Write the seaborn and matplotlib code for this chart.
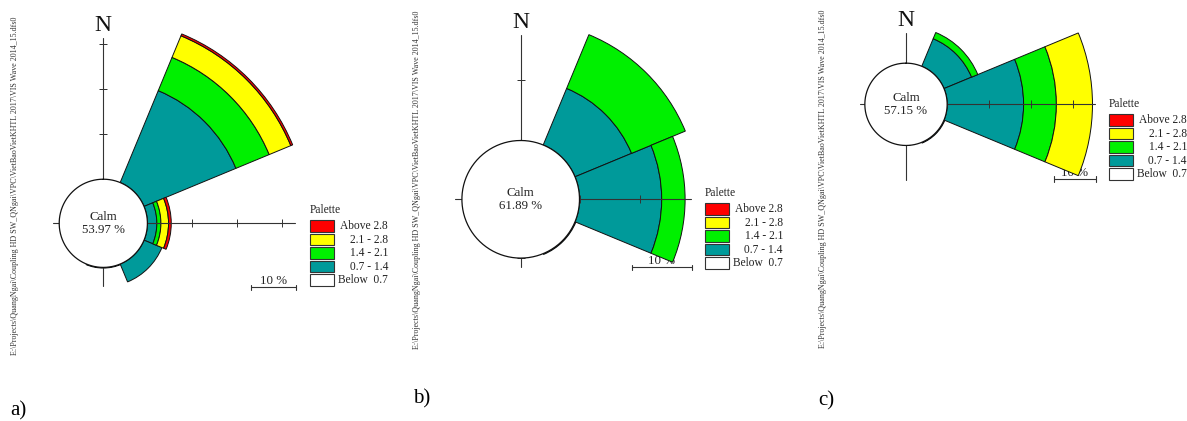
import numpy as np
import pandas as pd
import matplotlib
matplotlib.use("Agg")
import matplotlib.pyplot as plt
from matplotlib.patches import Rectangle
from matplotlib.lines import Line2D
import seaborn as sns

# wave direction sectors (compass, clockwise from N) and wave height classes
directions = ["N", "NE", "E", "SE", "S", "SW", "W", "NW"]
speed_bins = ["0.7 - 1.4", "1.4 - 2.1", "2.1 - 2.8", "Above 2.8"]
legend_labels = ["Above 2.8", "2.1 - 2.8", "1.4 - 2.1", "0.7 - 1.4", "Below  0.7"]
panel_labels = ["a)", "b)", "c)"]
calm_values = [53.97, 61.89, 57.15]

# frequency (%) per sector, one list per height class
a_07_14 = [0.0, 22.1, 2.1, 4.3, 0.15, 0.0, 0.0, 0.0]
a_14_21 = [0.0, 8.0, 0.9, 0.0, 0.0, 0.0, 0.0, 0.0]
a_21_28 = [0.0, 5.2, 1.7, 0.0, 0.0, 0.0, 0.0, 0.0]
a_above = [0.0, 0.45, 0.6, 0.0, 0.0, 0.0, 0.0, 0.0]

b_07_14 = [0.0, 10.2, 13.7, 0.15, 0.0, 0.0, 0.0, 0.0]
b_14_21 = [0.0, 9.7, 3.9, 0.0, 0.0, 0.0, 0.0, 0.0]
b_21_28 = [0.0, 0.0, 0.0, 0.0, 0.0, 0.0, 0.0, 0.0]
b_above = [0.0, 0.0, 0.0, 0.0, 0.0, 0.0, 0.0, 0.0]

c_07_14 = [0.0, 7.1, 18.2, 0.2, 0.0, 0.0, 0.0, 0.0]
c_14_21 = [0.0, 1.6, 7.8, 0.0, 0.0, 0.0, 0.0, 0.0]
c_21_28 = [0.0, 0.0, 8.6, 0.0, 0.0, 0.0, 0.0, 0.0]
c_above = [0.0, 0.0, 0.0, 0.0, 0.0, 0.0, 0.0, 0.0]

path_text = r"E:\Projects\QuangNgai\Coupling HD SW_QNgai\VPC\VietBaoVietKHTL 2017\VIS Wave 2014_15.dfs0"

bin_colors = ["#009a9a", "#00f000", "#ffff00", "#ff0000"]
legend_colors = ["#ff0000", "#ffff00", "#00f000", "#009a9a", "#ffffff"]


def to_long(cols):
    rows = []
    for b, vals in zip(speed_bins, cols):
        for d, v in zip(directions, vals):
            rows.append({"direction": d, "bin": b, "pct": v})
    return pd.DataFrame(rows)


panel_data = [
    to_long([a_07_14, a_14_21, a_21_28, a_above]),
    to_long([b_07_14, b_14_21, b_21_28, b_above]),
    to_long([c_07_14, c_14_21, c_21_28, c_above]),
]

# layout in pixels: centre, px per %, axis arm lengths from centre (N, E, S, W), legend, scale bar
layout = [
    dict(cx=103.3, cy=223.3, s=4.5, rmax=48, arms=(41.1, 42.7, 14.0, 11.1),
         leg=(310, 220), bar=(251, 287), lab=(10, 415), path=(15, 186)),
    dict(cx=520.7, cy=199.3, s=6.0, rmax=32, arms=(27.3, 28.3, 11.2, 11.0),
         leg=(705, 203), bar=(632, 267), lab=(413, 403), path=(417, 180)),
    dict(cx=906.0, cy=104.3, s=4.2, rmax=48, arms=(16.9, 45.0, 18.1, 11.0),
         leg=(1109, 114), bar=(1054, 179), lab=(818, 405), path=(823, 179)),
]

CALM_R = 9.8
W, H = 1187, 421

sns.set_theme(style="white")
plt.rcParams["font.family"] = ["Liberation Serif", "DejaVu Serif"]

fig = plt.figure(figsize=(W / 100, H / 100), dpi=100)
fig.patch.set_facecolor("white")


def fx(x):
    return x / W


def fy(y):
    return 1 - y / H


sector_theta = np.deg2rad(np.arange(len(directions)) * 45.0)
width = np.deg2rad(45.0)

for df, lay, calm, plabel in zip(panel_data, layout, calm_values, panel_labels):
    R = lay["rmax"] * lay["s"]
    ax = fig.add_axes([fx(lay["cx"] - R), fy(lay["cy"] + R), 2 * R / W, 2 * R / H],
                      projection="polar")
    ax.set_theta_zero_location("N")
    ax.set_theta_direction(-1)
    ax.set_ylim(0, lay["rmax"])
    ax.axis("off")

    # stacked sectors
    cum = np.zeros(len(directions))
    for b, col in zip(speed_bins, bin_colors):
        vals = df[df["bin"] == b].set_index("direction").loc[directions, "pct"].to_numpy()
        mask = vals > 0
        if mask.any():
            ax.bar(sector_theta[mask], vals[mask], width=width,
                   bottom=CALM_R + cum[mask], color=col,
                   edgecolor="#111111", linewidth=0.7, zorder=2)
        cum += vals

    # axis cross with ticks every 10 %
    for k, arm in enumerate(lay["arms"]):
        th = k * np.pi / 2
        ax.plot([th, th], [0, arm], color="#333333", lw=0.8, zorder=3)
        rt = [CALM_R + 10 * i for i in range(5) if CALM_R + 10 * i <= arm]
        ax.plot([th] * len(rt), rt, ls="none", marker="_" if k % 2 == 0 else "|",
                ms=6, mew=0.7, color="#333333", zorder=3)

    # calm circle
    ax.bar(0, CALM_R, width=2 * np.pi, bottom=0, color="white", linewidth=0, zorder=4)
    circ = np.linspace(0, 2 * np.pi, 361)
    ax.plot(circ, np.full_like(circ, CALM_R), color="#111111", lw=0.9, zorder=5)
    ax.text(0, 0, f"Calm\n{calm:.2f} %", ha="center", va="center",
            fontsize=9.3, color="#222222", linespacing=1.15, zorder=6)

    ax.annotate("N", xy=(0, lay["arms"][0]), xytext=(0, 7),
                textcoords="offset pixels", ha="center", va="baseline",
                fontsize=17, color="#111111")

    # scale bar (10 %)
    p0 = ax.transData.transform((np.pi / 2, CALM_R))
    p1 = ax.transData.transform((np.pi / 2, CALM_R + 10))
    blen = p1[0] - p0[0]
    bx, by = lay["bar"]
    fig.add_artist(Line2D([fx(bx), fx(bx + blen)], [fy(by), fy(by)],
                          transform=fig.transFigure, color="#333333", lw=0.8))
    for xe in (bx, bx + blen):
        fig.add_artist(Line2D([fx(xe), fx(xe)], [fy(by - 2.5), fy(by + 2.5)],
                              transform=fig.transFigure, color="#333333", lw=0.8))
    fig.text(fx(bx + blen / 2), fy(by - 3), "10 %", ha="center", va="baseline",
             fontsize=9.3, color="#222222", zorder=-1)

    # palette legend
    lx, ly = lay["leg"]
    fig.text(fx(lx), fy(ly - 7), "Palette", ha="left", va="baseline",
             fontsize=8.3, color="#222222")
    for i, (lab, col) in enumerate(zip(legend_labels, legend_colors)):
        yt = ly + i * 13.6
        fig.add_artist(Rectangle((fx(lx), fy(yt + 11.5)), 24 / W, 11.5 / H,
                                 transform=fig.transFigure, facecolor=col,
                                 edgecolor="#333333", lw=0.8))
        fig.text(fx(lx + 78), fy(yt + 6), lab, ha="right", va="center",
                 fontsize=8.3, color="#222222")

    # file path and panel label
    px_, py_ = lay["path"]
    fig.text(fx(px_), fy(py_), path_text, rotation=90, ha="center", va="center",
             fontsize=5.8, color="#333333")
    lbx, lby = lay["lab"]
    fig.text(fx(lbx), fy(lby), plabel, ha="left", va="baseline", fontsize=15,
             color="black")

fig.savefig("out.png", dpi=100, facecolor="white")
plt.close(fig)
